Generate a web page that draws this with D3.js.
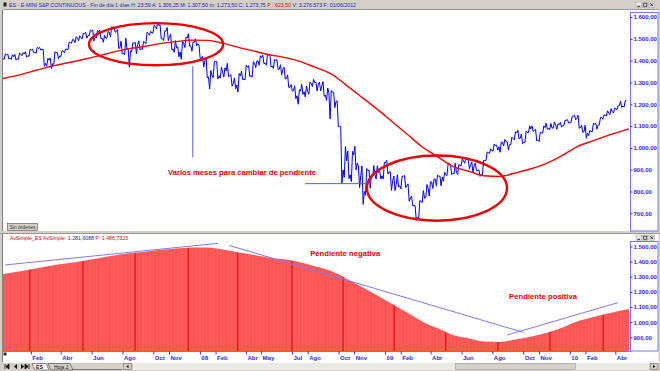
<!DOCTYPE html>
<html>
<head>
<meta charset="utf-8">
<script src="https://cdn.jsdelivr.net/npm/d3@7"></script>
<style>
body { margin: 0; background: #d4d0c8; overflow: hidden; }
svg { display: block; font-family: "Liberation Sans", Arial, sans-serif; }
</style>
</head>
<body>
<svg id="chart" width="660" height="371"></svg>
<script>
// weekly E-mini S&P values, one per Friday from 8 Dec 2006 to 23 Apr 2010
var closes = [1409,1427,1410,1418,
	1409,1430,1430,1422, 1449,1438,1456,1451, 1387,1402,1386,1437,1421, 1443,1452,1484,1494, 1505,1505,1523,1515, 1536,1507,1533,1503,1503, 1530,1552,1534,1459, 1433,1453,1445,1479,1474, 1454,1484,1525,1527, 1557,1561,1501,1535, 1509,1453,1458,1440,1481, 1504,1468,1484,1478,
	1411,1401,1325,1331, 1396,1331,1349,1353,1331, 1294,1288,1330,1316, 1370,1332,1390,1398, 1414,1388,1426,1375,1400, 1361,1360,1318,1278, 1262,1239,1260,1257, 1260,1296,1298,1292,1283, 1242,1252,1255,1213, 1099,899,940,877,968, 930,873,800,896, 876,879,887,872,
	932,890,850,832,826, 869,827,770,735, 683,756,769,816, 843,857,870,866, 877,929,883,887,919, 940,946,921,918, 897,879,941,979,987, 1010,1005,1026,1029, 1016,1042,1068,1044, 1025,1071,1087,1080,1036, 1069,1093,1091,1091, 1106,1106,1102,1126,1115,
	1145,1136,1092,1074, 1066,1075,1109,1104, 1139,1150,1160,1167, 1179,1194,1192,1217];
var highs = [1415,1431,1430,1427,
	1429,1435,1437,1441, 1452,1453,1461,1461, 1452,1410,1412,1440,1438, 1445,1453,1485,1498, 1510,1514,1525,1530, 1540,1540,1538,1540,1516, 1533,1555,1556,1542, 1489,1503,1456,1482,1484, 1491,1488,1530,1535, 1562,1576,1565,1536, 1552,1521,1492,1463,1488, 1508,1523,1485,1500,
	1471,1420,1413,1355, 1397,1396,1370,1367,1388, 1336,1321,1341,1352, 1380,1377,1395,1399, 1422,1425,1429,1430,1406, 1405,1381,1370,1335, 1290,1285,1267,1291, 1284,1302,1314,1301,1301, 1304,1274,1263,1255, 1216,1098,1006,985,984, 1007,917,917,905, 898,919,918,893,
	934,943,890,871,877, 870,875,835,779, 735,758,804,832, 845,857,875,871, 888,930,924,930,924, 951,956,946,935, 931,899,943,981,996, 1018,1013,1027,1039, 1028,1049,1074,1081, 1063,1076,1101,1101,1085, 1072,1101,1113,1112, 1119,1110,1117,1127,1130,
	1145,1150,1150,1104, 1104,1080,1112,1112, 1140,1151,1170,1180, 1182,1195,1214,1217];
var lows = [1394,1406,1408,1406,
	1403,1405,1423,1416, 1420,1436,1433,1448, 1374,1374,1364,1383,1408, 1419,1436,1449,1479, 1483,1491,1500,1503, 1514,1490,1504,1500,1484, 1503,1510,1530,1455, 1430,1428,1370,1440,1432, 1450,1451,1477,1516, 1526,1545,1500,1492, 1492,1450,1438,1417,1406, 1460,1467,1443,1468,
	1409,1371,1322,1270, 1322,1316,1320,1325,1326, 1283,1271,1256,1312, 1312,1327,1324,1368, 1379,1386,1379,1371,1364, 1359,1335,1316,1277, 1260,1225,1200,1245, 1234,1246,1281,1261,1262, 1236,1217,1133,1184, 1097,839,865,859,845, 899,818,741,783, 815,866,857,857,
	857,880,805,804,821, 812,818,755,734, 667,672,749,771, 779,814,826,826, 847,873,878,881,878, 918,929,904,888, 895,869,875,942,974, 986,990,980,1008, 991,1015,1037,1041, 1019,1025,1070,1075,1033, 1029,1067,1085,1083, 1090,1085,1095,1102,1114,
	1116,1129,1090,1071, 1044,1056,1074,1086, 1105,1131,1146,1152, 1160,1175,1186,1187];

// simple 200 session average
var maDates = ['2006-12-08','2007-01-15','2007-02-15','2007-03-15','2007-04-15','2007-05-15','2007-06-15','2007-07-15','2007-08-15','2007-09-15','2007-10-15','2007-11-15','2007-12-15',
	'2008-01-15','2008-02-15','2008-03-15','2008-04-15','2008-05-15','2008-06-15','2008-07-15','2008-08-15','2008-09-15','2008-10-01','2008-10-15','2008-11-15','2008-12-15',
	'2009-01-15','2009-02-15','2009-03-15','2009-04-15','2009-05-15','2009-06-15','2009-07-15','2009-08-15','2009-09-15','2009-10-15','2009-11-15','2009-12-15',
	'2010-01-15','2010-02-15','2010-03-15','2010-04-28'];
var maValues = [1318,1338,1358,1375,1390,1405,1422,1440,1455,1466,1478,1487,1494,
	1493,1480,1462,1445,1428,1415,1398,1370,1340,1316,1290,1234,1180,
	1120,1060,1005,959,915,893,872,869,885,903,928,962,
	1005,1032,1055,1087];

var topTicks = [700, 800, 900, 1000, 1100, 1200, 1300, 1400, 1500, 1600];
var bottomTicks = [900, 1000, 1100, 1200, 1300, 1400, 1500];
var monthDates = ['2007-02-01','2007-04-01','2007-06-01','2007-08-01','2007-10-01','2007-11-01','2008-01-01','2008-02-01','2008-04-01','2008-05-01','2008-07-01','2008-08-01',
	'2008-10-01','2008-11-01','2009-01-01','2009-02-01','2009-04-01','2009-06-01','2009-08-01','2009-10-01','2009-11-01','2010-01-01','2010-02-01','2010-04-01'];
var monthLabels = ['Feb','Abr','Jun','Ago','Oct','Nov','08','Feb','Abr','May','Jul','Ago','Oct','Nov','09','Feb','Abr','Jun','Ago','Oct','Nov','10','Feb','Abr'];
var stripeDates = ['2007-01-30','2007-05-15','2007-08-26','2007-12-09','2008-03-16','2008-07-01','2008-10-10','2009-01-19','2009-05-01','2009-08-12','2009-11-23','2010-03-08'];

var parse = d3.timeParse('%Y-%m-%d');
var svg = d3.select('#chart');
var blue = '#2a2aff';
var frameBlue = '#7474ff';
var grey = '#d4d0c8';

var x = d3.scaleTime().domain([new Date(2006, 11, 8), new Date(2010, 3, 28)]).range([3, 629]);
var yTop = d3.scaleLinear().domain([700, 1600]).range([213.3, 17]);
var yBot = d3.scaleLinear().domain([900, 1500]).range([337.3, 246.5]);

var weeks = d3.timeFriday.range(new Date(2006, 11, 8), new Date(2010, 3, 24));
var ma = maDates.map(function(d, i) { return {date: parse(d), v: maValues[i]}; });

var es = d3.formatLocale({decimal: ',', thousands: '.', grouping: [3], currency: ['', '']});
var fmt = es.format(',.2f');

// ---------- window chrome ----------
svg.append('rect').attr('x', 0).attr('y', 0).attr('width', 660).attr('height', 371).attr('fill', '#fff');
svg.append('rect').attr('x', 0).attr('y', 0).attr('width', 660).attr('height', 10).attr('fill', grey);
svg.append('line').attr('x1', 0).attr('x2', 660).attr('y1', 9.5).attr('y2', 9.5).attr('stroke', '#9a9a9a');
svg.append('rect').attr('x', 0).attr('y', 0).attr('width', 3).attr('height', 371).attr('fill', grey);
svg.append('line').attr('x1', 2.5).attr('x2', 2.5).attr('y1', 10).attr('y2', 363).attr('stroke', '#808080');
svg.append('rect').attr('x', 658.5).attr('y', 0).attr('width', 1.5).attr('height', 371).attr('fill', grey);
svg.append('rect').attr('x', 0).attr('y', 231).attr('width', 660).attr('height', 3).attr('fill', grey);
svg.append('line').attr('x1', 0).attr('x2', 660).attr('y1', 233.5).attr('y2', 233.5).attr('stroke', '#9a9a9a');
svg.append('rect').attr('x', 3.5).attr('y', 2.5).attr('width', 3).attr('height', 4).attr('fill', '#202020');

var title = svg.append('text').attr('x', 9).attr('y', 7.2).attr('font-size', 5.3).attr('fill', '#2020c0')
	.attr('textLength', 347).attr('lengthAdjust', 'spacingAndGlyphs');
title.append('tspan').text('ES - E-MINI S&P CONTINUOUS - Fin de día 1 días  H: 23:59  A: 1.306,25  M: 1.307,50  m: 1.273,50  C: 1.273,75  ');
title.append('tspan').attr('fill', '#e00000').text('P : 623,50');
title.append('tspan').text('  V: 3.276.573  F: 01/06/2012');

function winButtons(y0) {
	var g = svg.append('g').attr('transform', 'translate(636,' + y0 + ')');
	[0, 6.5, 13].forEach(function(dx) {
		g.append('rect').attr('x', dx).attr('y', 0).attr('width', 5.5).attr('height', 5.5).attr('fill', '#ecebe8').attr('stroke', '#9a9a9a').attr('stroke-width', 0.5);
	});
	g.append('line').attr('x1', 1.3).attr('x2', 4.2).attr('y1', 4.3).attr('y2', 4.3).attr('stroke', '#222');
	g.append('rect').attr('x', 7.7).attr('y', 1.2).attr('width', 3.1).attr('height', 3.1).attr('fill', 'none').attr('stroke', '#222').attr('stroke-width', 0.8);
	g.append('path').attr('d', 'M14.3,1.3L17.2,4.2M17.2,1.3L14.3,4.2').attr('stroke', '#222').attr('stroke-width', 0.9);
}
winButtons(2);
winButtons(235);

// ---------- top panel: price and average ----------
svg.append('clipPath').attr('id', 'clipTop').append('rect').attr('x', 3).attr('y', 10).attr('width', 627).attr('height', 221);
svg.append('clipPath').attr('id', 'clipBot').append('rect').attr('x', 3).attr('y', 234).attr('width', 627).attr('height', 117);

var topG = svg.append('g').attr('clip-path', 'url(#clipTop)');

// each week: the two extremes in the order the week moved, then the close
var pricePts = [];
weeks.forEach(function(w, i) {
	var up = i === 0 || closes[i] >= closes[i - 1];
	var a = up ? lows[i] : highs[i];
	var b = up ? highs[i] : lows[i];
	pricePts.push({date: d3.timeHour.offset(w, -112), v: a});
	pricePts.push({date: d3.timeHour.offset(w, -56), v: b});
	pricePts.push({date: w, v: closes[i]});
});

topG.append('path').datum(pricePts)
	.attr('d', d3.line().x(function(d) { return x(d.date); }).y(function(d) { return yTop(d.v); }))
	.attr('fill', 'none').attr('stroke', '#0000ff').attr('stroke-width', 1).attr('stroke-linejoin', 'round');

topG.append('path').datum(ma)
	.attr('d', d3.line().x(function(d) { return x(d.date); }).y(function(d) { return yTop(d.v); }).curve(d3.curveMonotoneX))
	.attr('fill', 'none').attr('stroke', '#ff0000').attr('stroke-width', 1.4);

// annotations, top panel
var ellipses = [
	{from: '2007-05-27', to: '2008-02-16', hi: 1572, lo: 1379},
	{from: '2008-11-26', to: '2009-08-30', hi: 965, lo: 666}
];
ellipses.forEach(function(e) {
	var x1 = x(parse(e.from)), x2 = x(parse(e.to));
	var y1 = yTop(e.hi), y2 = yTop(e.lo);
	topG.append('ellipse').attr('cx', (x1 + x2) / 2).attr('cy', (y1 + y2) / 2)
		.attr('rx', (x2 - x1) / 2).attr('ry', (y2 - y1) / 2)
		.attr('fill', 'none').attr('stroke', '#ee0000').attr('stroke-width', 2.4);
});

topG.append('line')
	.attr('x1', x(parse('2007-12-18'))).attr('x2', x(parse('2007-12-18')))
	.attr('y1', yTop(1375)).attr('y2', yTop(956))
	.attr('stroke', '#5a5af0').attr('stroke-width', 1);
topG.append('line')
	.attr('x1', x(parse('2008-07-27'))).attr('x2', x(parse('2008-11-26')))
	.attr('y1', yTop(836)).attr('y2', yTop(836))
	.attr('stroke', '#5a5af0').attr('stroke-width', 1);

svg.append('text').attr('x', x(parse('2007-10-30'))).attr('y', yTop(874))
	.attr('font-size', 8).attr('font-weight', 'bold').attr('fill', '#ee0000')
	.attr('textLength', 148).attr('lengthAdjust', 'spacingAndGlyphs')
	.text('Varios meses para cambiar de pendiente');

// right axis, top
svg.append('rect').attr('x', 630.5).attr('y', 12.5).attr('width', 27.5).attr('height', 218.5)
	.attr('fill', 'none').attr('stroke', frameBlue);
var axTop = svg.append('g').attr('transform', 'translate(630.5,0)')
	.call(d3.axisRight(yTop).tickValues(topTicks).tickSize(2).tickPadding(1).tickFormat(fmt));
axTop.select('.domain').remove();

// "Sin órdenes" button
svg.append('rect').attr('x', 7.5).attr('y', 223.5).attr('width', 30).attr('height', 7).attr('fill', grey).attr('stroke', '#505050').attr('stroke-width', 0.6);
svg.append('text').attr('x', 22.5).attr('y', 229).attr('text-anchor', 'middle').attr('font-size', 4.8).attr('fill', '#303030').text('Sin órdenes');

// ---------- bottom panel: the average as a filled area ----------
var botG = svg.append('g').attr('clip-path', 'url(#clipBot)');
var area = d3.area().x(function(d) { return x(d.date); }).y0(351).y1(function(d) { return yBot(d.v); }).curve(d3.curveMonotoneX);

svg.append('clipPath').attr('id', 'clipArea').append('path').datum(ma).attr('d', area);
botG.append('path').datum(ma).attr('d', area).attr('fill', '#ff5a5a');
var inArea = botG.append('g').attr('clip-path', 'url(#clipArea)');
// faint bar texture, one line per week
inArea.selectAll('.tex').data(weeks).enter().append('line').attr('class', 'tex')
	.attr('x1', function(d) { return x(d); }).attr('x2', function(d) { return x(d); })
	.attr('y1', 234).attr('y2', 351)
	.attr('stroke', '#f04040').attr('stroke-width', 0.5).attr('stroke-opacity', 0.5);
inArea.selectAll('.stripe').data(stripeDates).enter().append('line').attr('class', 'stripe')
	.attr('x1', function(d) { return x(parse(d)); }).attr('x2', function(d) { return x(parse(d)); })
	.attr('y1', 234).attr('y2', 351)
	.attr('stroke', '#e00000').attr('stroke-width', 1);

var trends = [
	{from: '2006-12-12', to: '2008-02-06', v1: 1378, v2: 1521},
	{from: '2008-02-28', to: '2009-10-01', v1: 1507, v2: 933},
	{from: '2009-08-30', to: '2010-04-06', v1: 915, v2: 1129}
];
botG.selectAll('.trend').data(trends).enter().append('line').attr('class', 'trend')
	.attr('x1', function(d) { return x(parse(d.from)); }).attr('x2', function(d) { return x(parse(d.to)); })
	.attr('y1', function(d) { return yBot(d.v1); }).attr('y2', function(d) { return yBot(d.v2); })
	.attr('stroke', '#7a7aff').attr('stroke-width', 1);

svg.append('text').attr('x', x(parse('2008-08-06'))).attr('y', yBot(1437))
	.attr('font-size', 8).attr('font-weight', 'bold').attr('fill', '#ee0000')
	.attr('textLength', 70).attr('lengthAdjust', 'spacingAndGlyphs').text('Pendiente negativa');
svg.append('text').attr('x', x(parse('2009-09-03'))).attr('y', yBot(1153))
	.attr('font-size', 8).attr('font-weight', 'bold').attr('fill', '#ee0000')
	.attr('textLength', 68).attr('lengthAdjust', 'spacingAndGlyphs').text('Pendiente positiva');

var head = svg.append('text').attr('x', 10).attr('y', 240).attr('font-size', 5.3).attr('fill', '#e00000')
	.attr('textLength', 118).attr('lengthAdjust', 'spacingAndGlyphs');
head.append('tspan').text('AvSimple_ES  AvSimple:  ');
head.append('tspan').attr('fill', '#2020c0').text('1.281,6088');
head.append('tspan').text('  P: 1.486,7323');

// right axis, bottom
svg.append('rect').attr('x', 630.5).attr('y', 241.5).attr('width', 27.5).attr('height', 109.5)
	.attr('fill', 'none').attr('stroke', frameBlue);
var axBot = svg.append('g').attr('transform', 'translate(630.5,0)')
	.call(d3.axisRight(yBot).tickValues(bottomTicks).tickSize(2).tickPadding(1).tickFormat(fmt));
axBot.select('.domain').remove();

[axTop, axBot].forEach(function(ax) {
	ax.selectAll('line').attr('stroke', blue);
	ax.selectAll('text').attr('fill', blue).attr('font-size', 6).attr('font-weight', 'bold')
		.attr('font-family', '"Liberation Sans", Arial, sans-serif');
});

// time axis
svg.append('line').attr('x1', 3).attr('x2', 631).attr('y1', 351.5).attr('y2', 351.5).attr('stroke', frameBlue);
var axX = svg.append('g').attr('transform', 'translate(0,351.5)')
	.call(d3.axisBottom(x).tickValues(monthDates.map(parse)).tickSize(3)
		.tickFormat(function(d, i) { return monthLabels[i]; }));
axX.select('.domain').remove();
axX.selectAll('line').attr('stroke', blue);
axX.selectAll('text').attr('fill', blue).attr('font-size', 6).attr('font-weight', 'bold')
	.attr('font-family', '"Liberation Sans", Arial, sans-serif')
	.attr('text-anchor', 'start').attr('x', 1).attr('y', 8.5).attr('dy', 0);
svg.append('rect').attr('x', 3.5).attr('y', 352.5).attr('width', 3).attr('height', 3).attr('fill', '#303030');

// ---------- sheet tabs and scroll bar ----------
svg.append('rect').attr('x', 0).attr('y', 362).attr('width', 660).attr('height', 9).attr('fill', grey);
svg.append('line').attr('x1', 3).attr('x2', 660).attr('y1', 362.5).attr('y2', 362.5).attr('stroke', '#ffffff');
var nav = svg.append('g').attr('fill', '#101010');
nav.append('path').attr('d', 'M5,364v5M9,364l-3.2,2.5L9,369z').attr('stroke', '#101010').attr('stroke-width', 0.8);
nav.append('path').attr('d', 'M17,364l-3.2,2.5L17,369z');
nav.append('path').attr('d', 'M21,364l3.2,2.5L21,369z');
nav.append('path').attr('d', 'M29,364v5M25,364l3.2,2.5L25,369z').attr('stroke', '#101010').attr('stroke-width', 0.8);
svg.append('path').attr('d', 'M32,363.5h14l3,6.5h-14z').attr('fill', '#fff').attr('stroke', '#404040').attr('stroke-width', 0.6);
svg.append('text').attr('x', 36).attr('y', 368.5).attr('font-size', 5.3).attr('font-weight', 'bold').attr('fill', '#101010').text('ES');
svg.append('path').attr('d', 'M48,363.5h22l3,6.5h-22z').attr('fill', grey).attr('stroke', '#404040').attr('stroke-width', 0.6);
svg.append('text').attr('x', 54).attr('y', 368.5).attr('font-size', 5).attr('fill', '#101010').text('Hoja 2');
svg.append('line').attr('x1', 73).attr('x2', 122).attr('y1', 369.5).attr('y2', 369.5).attr('stroke', '#404040').attr('stroke-width', 0.6);
svg.append('rect').attr('x', 123.5).attr('y', 363.5).attr('width', 8).attr('height', 6).attr('fill', grey).attr('stroke', '#707070').attr('stroke-width', 0.6);
svg.append('path').attr('d', 'M126.3,366.5l2.2,-1.8v3.6z').attr('fill', '#101010');
svg.append('rect').attr('x', 133).attr('y', 363).attr('width', 516).attr('height', 7).attr('fill', '#ebeae6');
svg.append('rect').attr('x', 455.5).attr('y', 363.5).attr('width', 120).attr('height', 6).attr('fill', grey).attr('stroke', '#9a9a9a').attr('stroke-width', 0.6);
svg.append('rect').attr('x', 650.5).attr('y', 363.5).attr('width', 7.5).attr('height', 6).attr('fill', grey).attr('stroke', '#707070').attr('stroke-width', 0.6);
svg.append('path').attr('d', 'M655.2,366.5l-2.2,-1.8v3.6z').attr('fill', '#101010');
</script>
</body>
</html>
